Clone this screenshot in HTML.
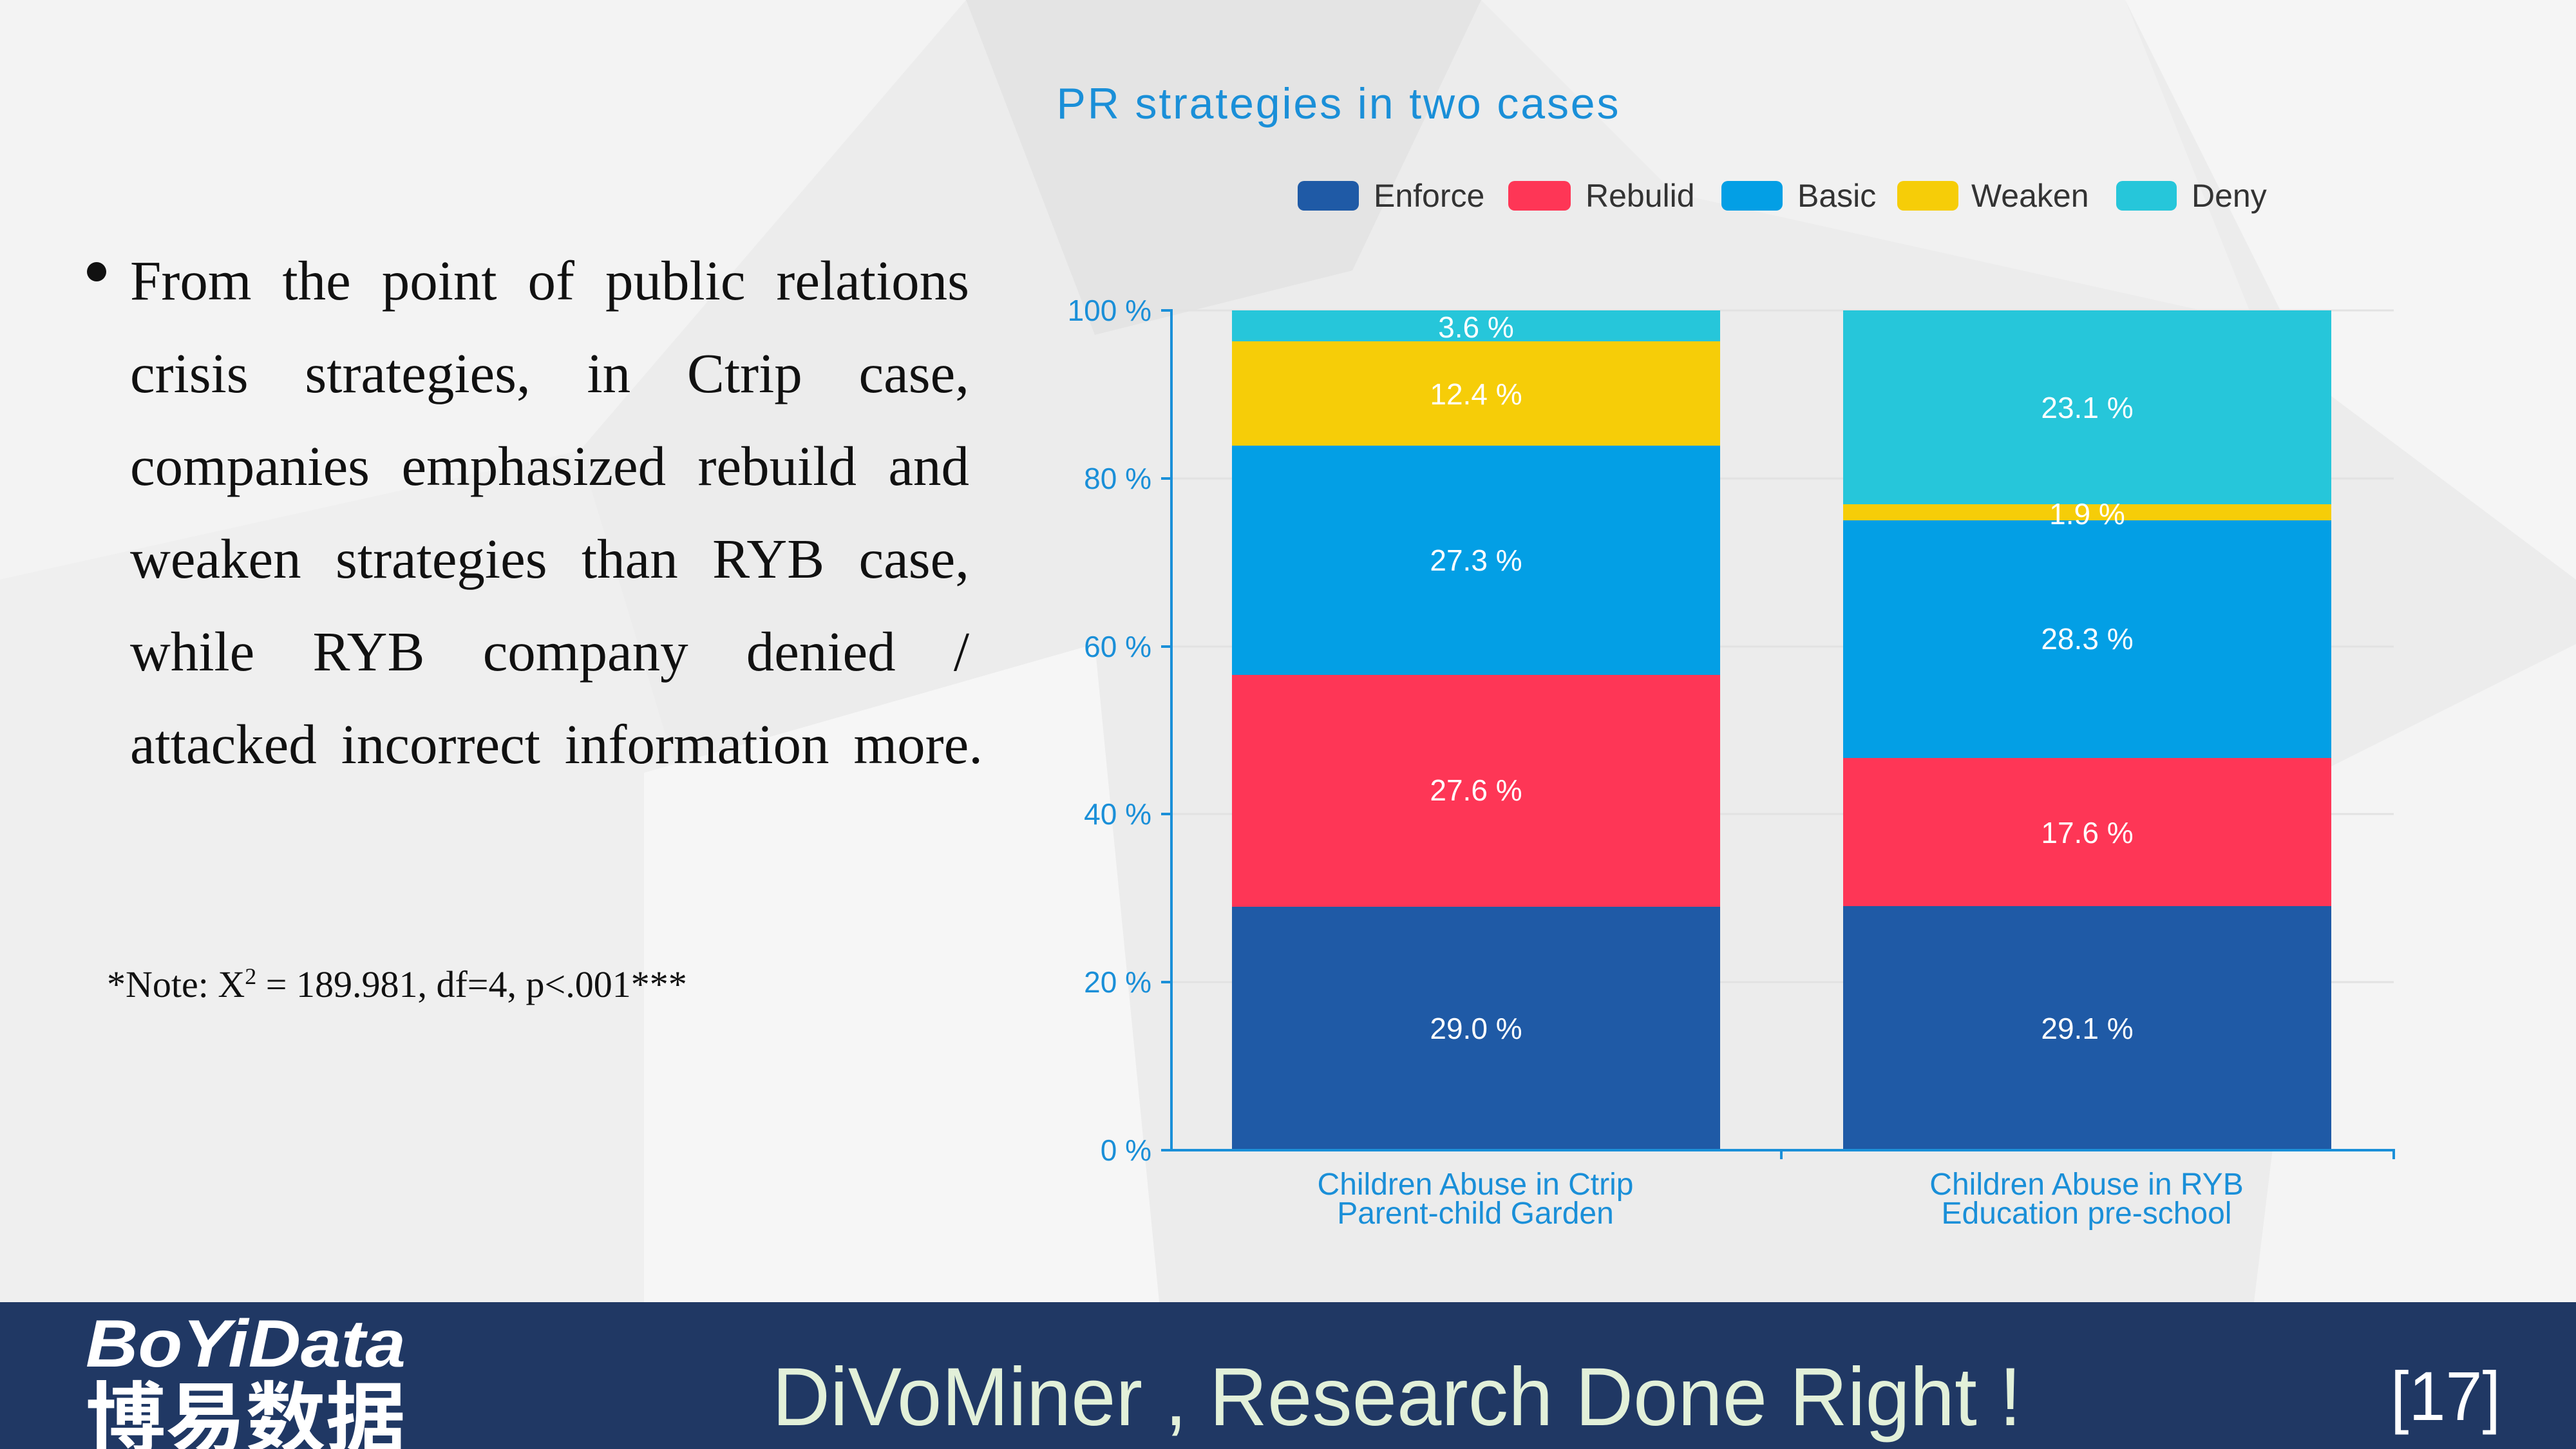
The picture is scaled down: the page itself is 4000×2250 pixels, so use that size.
<!DOCTYPE html>
<html><head><meta charset="utf-8"><style>
html,body{margin:0;padding:0}
body{width:4000px;height:2250px;overflow:hidden;background:#ececec;position:relative;font-family:"Liberation Sans",sans-serif}
.ln{position:absolute;left:202px;width:1303px;height:144px;line-height:144px;font-family:"Liberation Serif",serif;font-size:87px;color:#111;white-space:nowrap;text-align:justify;text-align-last:justify}
</style></head><body>
<svg width="4000" height="2250" style="position:absolute;left:0;top:0">
<polygon points="0,0 1500,0 900,700 0,900" fill="#f3f3f3"/>
<polygon points="0,900 900,700 1300,2022 0,2022" fill="#efefef"/>
<polygon points="1500,0 2300,0 2100,420 1700,520" fill="#e4e4e4"/>
<polygon points="2300,0 3300,0 3500,500 2600,300" fill="#f1f1f1"/>
<polygon points="3300,0 4000,0 4000,900 3600,600" fill="#f5f5f5"/>
<polygon points="1000,1200 1700,1000 1800,2022 1000,2022" fill="#f6f6f6"/>
<polygon points="3600,1200 4000,1000 4000,2022 3500,2022" fill="#f4f4f4"/>
<g stroke="#e2e2e2" stroke-width="3">
<line x1="1819" y1="482" x2="3717" y2="482"/><line x1="1819" y1="743" x2="3717" y2="743"/>
<line x1="1819" y1="1004" x2="3717" y2="1004"/><line x1="1819" y1="1264" x2="3717" y2="1264"/>
<line x1="1819" y1="1525" x2="3717" y2="1525"/>
</g>
<rect x="1913" y="1408" width="758" height="378" fill="#1f5aa6"/>
<rect x="1913" y="1048" width="758" height="360" fill="#fe3656"/>
<rect x="1913" y="692" width="758" height="356" fill="#039fe5"/>
<rect x="1913" y="530" width="758" height="162" fill="#f6cd08"/>
<rect x="1913" y="482" width="758" height="48" fill="#26c6da"/>
<rect x="2862" y="1407" width="758" height="379" fill="#1f5aa6"/>
<rect x="2862" y="1177" width="758" height="230" fill="#fe3656"/>
<rect x="2862" y="808" width="758" height="369" fill="#039fe5"/>
<rect x="2862" y="783" width="758" height="25" fill="#f6cd08"/>
<rect x="2862" y="482" width="758" height="301" fill="#26c6da"/>
<g fill="#fff" font-size="46" text-anchor="middle">
<text x="2292" y="524">3.6 %</text><text x="2292" y="628">12.4 %</text>
<text x="2292" y="886">27.3 %</text><text x="2292" y="1243">27.6 %</text>
<text x="2292" y="1613">29.0 %</text>
<text x="3241" y="649">23.1 %</text><text x="3241" y="814">1.9 %</text>
<text x="3241" y="1008">28.3 %</text><text x="3241" y="1309">17.6 %</text>
<text x="3241" y="1613">29.1 %</text>
</g>
<g stroke="#1a8fd8" stroke-width="4" fill="none">
<line x1="1819" y1="480" x2="1819" y2="1788"/>
<line x1="1817" y1="1786" x2="3719" y2="1786"/>
<line x1="1803" y1="482" x2="1819" y2="482"/><line x1="1803" y1="743" x2="1819" y2="743"/>
<line x1="1803" y1="1004" x2="1819" y2="1004"/><line x1="1803" y1="1264" x2="1819" y2="1264"/>
<line x1="1803" y1="1525" x2="1819" y2="1525"/><line x1="1803" y1="1786" x2="1819" y2="1786"/>
<line x1="2766" y1="1786" x2="2766" y2="1800"/><line x1="3717" y1="1786" x2="3717" y2="1800"/>
</g>
<g fill="#1a8fd8" font-size="46" text-anchor="end">
<text x="1788" y="498">100 %</text><text x="1788" y="759">80 %</text>
<text x="1788" y="1020">60 %</text><text x="1788" y="1280">40 %</text>
<text x="1788" y="1541">20 %</text><text x="1788" y="1802">0 %</text>
</g>
<g fill="#1a8fd8" font-size="48" text-anchor="middle">
<text x="2291" y="1855">Children Abuse in Ctrip</text>
<text x="2291" y="1900">Parent-child Garden</text>
<text x="3240" y="1855">Children Abuse in RYB</text>
<text x="3240" y="1900">Education pre-school</text>
</g>
<text x="2077" y="184" fill="#1a8fd8" font-size="68" text-anchor="middle" textLength="873">PR strategies in two cases</text>
<g font-size="50" fill="#333">
<rect x="2015" y="281" width="95" height="46" rx="10" fill="#1f5aa6"/><text x="2133" y="321">Enforce</text>
<rect x="2342" y="281" width="97" height="46" rx="10" fill="#fe3656"/><text x="2462" y="321">Rebulid</text>
<rect x="2673" y="281" width="95" height="46" rx="10" fill="#039fe5"/><text x="2791" y="321">Basic</text>
<rect x="2946" y="281" width="95" height="46" rx="10" fill="#f6cd08"/><text x="3061" y="321">Weaken</text>
<rect x="3286" y="281" width="94" height="46" rx="10" fill="#26c6da"/><text x="3403" y="321">Deny</text>
</g>
<rect x="0" y="2022" width="4000" height="228" fill="#203864"/>
<text x="133" y="2122" fill="#fff" font-size="104" font-weight="bold" font-style="italic" textLength="497" lengthAdjust="spacingAndGlyphs">BoYiData</text>
<text x="133" y="2245" fill="#fff" font-size="120" font-weight="bold" font-family="'Noto Sans CJK SC',sans-serif" textLength="497" lengthAdjust="spacingAndGlyphs">博易数据</text>
<text x="1199" y="2213" fill="#e2f0d9" font-size="128" textLength="1940" lengthAdjust="spacingAndGlyphs">DiVoMiner , Research Done Right !</text>
<text x="3712" y="2205" fill="#fff" font-size="108" textLength="171" lengthAdjust="spacingAndGlyphs">[17]</text>
<circle cx="150" cy="422" r="15" fill="#111"/>
<text x="166" y="1548" font-family="'Liberation Serif',serif" font-size="58" fill="#111">*Note: X<tspan font-size="36" dy="-20">2</tspan><tspan dy="20"> = 189.981, df=4, p&lt;.001***</tspan></text>
</svg>
<div class="ln" style="top:364px">From the point of public relations</div>
<div class="ln" style="top:508px">crisis strategies, in Ctrip case,</div>
<div class="ln" style="top:652px">companies emphasized rebuild and</div>
<div class="ln" style="top:796px">weaken strategies than RYB case,</div>
<div class="ln" style="top:940px">while RYB company denied /</div>
<div class="ln" style="top:1084px;width:1324px">attacked incorrect information more.</div>
</body></html>
